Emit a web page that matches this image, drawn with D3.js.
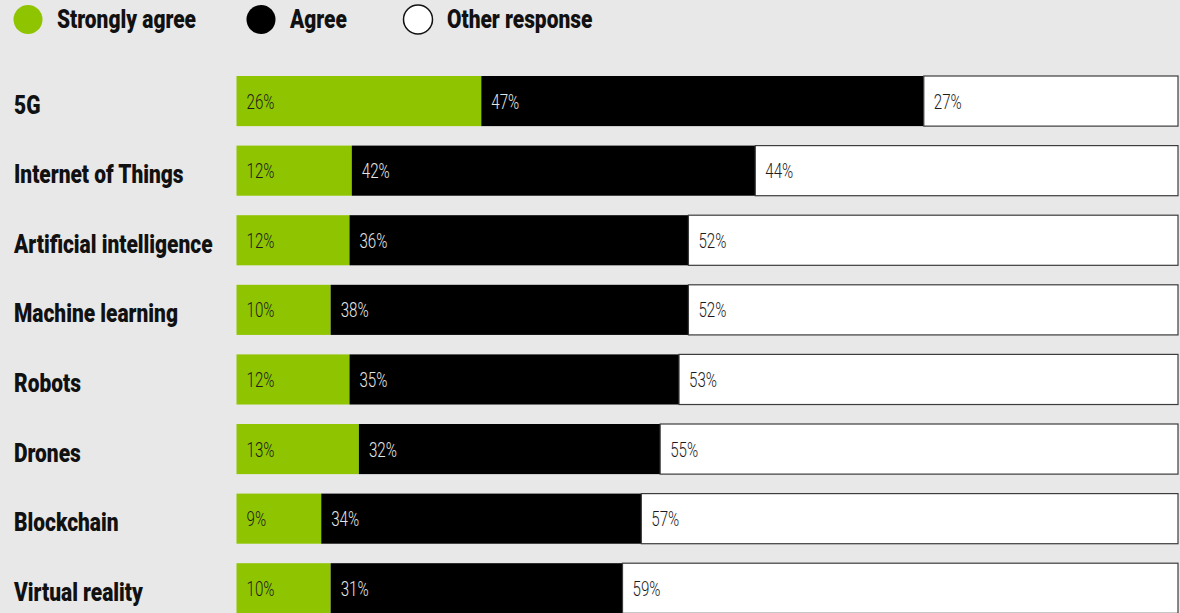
<!DOCTYPE html>
<html>
<head>
<meta charset="utf-8">
<script src="https://cdn.jsdelivr.net/npm/d3@7"></script>
<style>
  html, body { margin: 0; padding: 0; background: #e8e8e8; }
  svg { display: block; }
  .cat, .leg { font-family: "Roboto", "Liberation Sans", sans-serif; font-weight: 900; font-size: 25px; fill: #111; }
  .val { font-family: "Roboto", "Liberation Sans", sans-serif; font-weight: 300; font-size: 19.5px; }
</style>
</head>
<body>
<svg id="chart" width="1180" height="613"></svg>
<script>
// Survey responses per technology (percent of respondents)
const categories = ["5G", "Internet of Things", "Artificial intelligence", "Machine learning",
                    "Robots", "Drones", "Blockchain", "Virtual reality"];
const stronglyAgree = [26, 12, 12, 10, 12, 13, 9, 10];
const agree         = [47, 42, 36, 38, 35, 32, 34, 31];
const otherResponse = [27, 44, 52, 52, 53, 55, 57, 59];

const seriesKeys = ["Strongly agree", "Agree", "Other response"];
const seriesValues = [stronglyAgree, agree, otherResponse];
const colors = ["#8fc400", "#000000", "#ffffff"];
const labelColors = ["#1c1c1c", "#e6e6e6", "#1c1c1c"];

const rows = categories.map((c, i) => {
  const r = { category: c };
  seriesKeys.forEach((k, j) => r[k] = seriesValues[j][i]);
  return r;
});

const svg = d3.select("#chart");

// Condensed look: squeeze a text class horizontally so a sample string gets a given width
function condenseFactor(cls, sample, targetWidth) {
  const t = svg.append("text").attr("class", cls).text(sample);
  const w = t.node().getComputedTextLength();
  t.remove();
  return targetWidth / w;
}
const kCat = condenseFactor("cat", "Machine learning", 164);
const kVal = condenseFactor("val", "10%", 28);

// Each bar spans the full width: values are expanded to the row total
const stack = d3.stack().keys(seriesKeys).offset(d3.stackOffsetExpand);
const layers = stack(rows);

const step = 69.6, pad = 0.28;
const x = d3.scaleLinear().domain([0, 1]).range([236.5, 1178]);
const y = d3.scaleBand().domain(categories)
  .range([76, 76 + step * (categories.length - pad)])
  .paddingInner(pad).paddingOuter(0).align(0);

const color = d3.scaleOrdinal().domain(seriesKeys).range(colors);
const labelColor = d3.scaleOrdinal().domain(seriesKeys).range(labelColors);

// Category labels
svg.append("g").selectAll("text").data(categories).join("text")
  .attr("class", "cat")
  .attr("transform", d => `translate(14,${y(d) + y.bandwidth() / 2 + 12.5}) scale(${kCat},1)`)
  .text(d => d);

// Stacked segments with their value labels
const g = svg.append("g");
layers.forEach(layer => {
  const key = layer.key;
  const grp = g.append("g");
  grp.selectAll("rect").data(layer).join("rect")
    .attr("x", d => x(d[0]))
    .attr("y", d => y(d.data.category))
    .attr("width", d => x(d[1]) - x(d[0]))
    .attr("height", y.bandwidth())
    .attr("fill", color(key))
    .attr("stroke", key === "Other response" ? "#3c3c3c" : "none")
    .attr("stroke-width", 1.2);
  grp.selectAll("text").data(layer).join("text")
    .attr("class", "val")
    .attr("transform", d => `translate(${x(d[0]) + 10},${y(d.data.category) + y.bandwidth() / 2 + 7.5}) scale(${kVal},1)`)
    .attr("fill", labelColor(key))
    .text(d => d.data[key] + "%");
});

// Legend
const legendX = [28, 261, 418];
const legend = svg.append("g").selectAll("g").data(seriesKeys).join("g")
  .attr("transform", (d, i) => `translate(${legendX[i]},19.5)`);
legend.append("ellipse")
  .attr("rx", 14.5).attr("ry", 14.5)
  .attr("fill", d => color(d))
  .attr("stroke", d => d === "Other response" ? "#111" : "none")
  .attr("stroke-width", 1.5);
legend.append("text")
  .attr("class", "leg")
  .attr("transform", `translate(29,8.5) scale(${kCat},1)`)
  .text(d => d);
</script>
</body>
</html>
